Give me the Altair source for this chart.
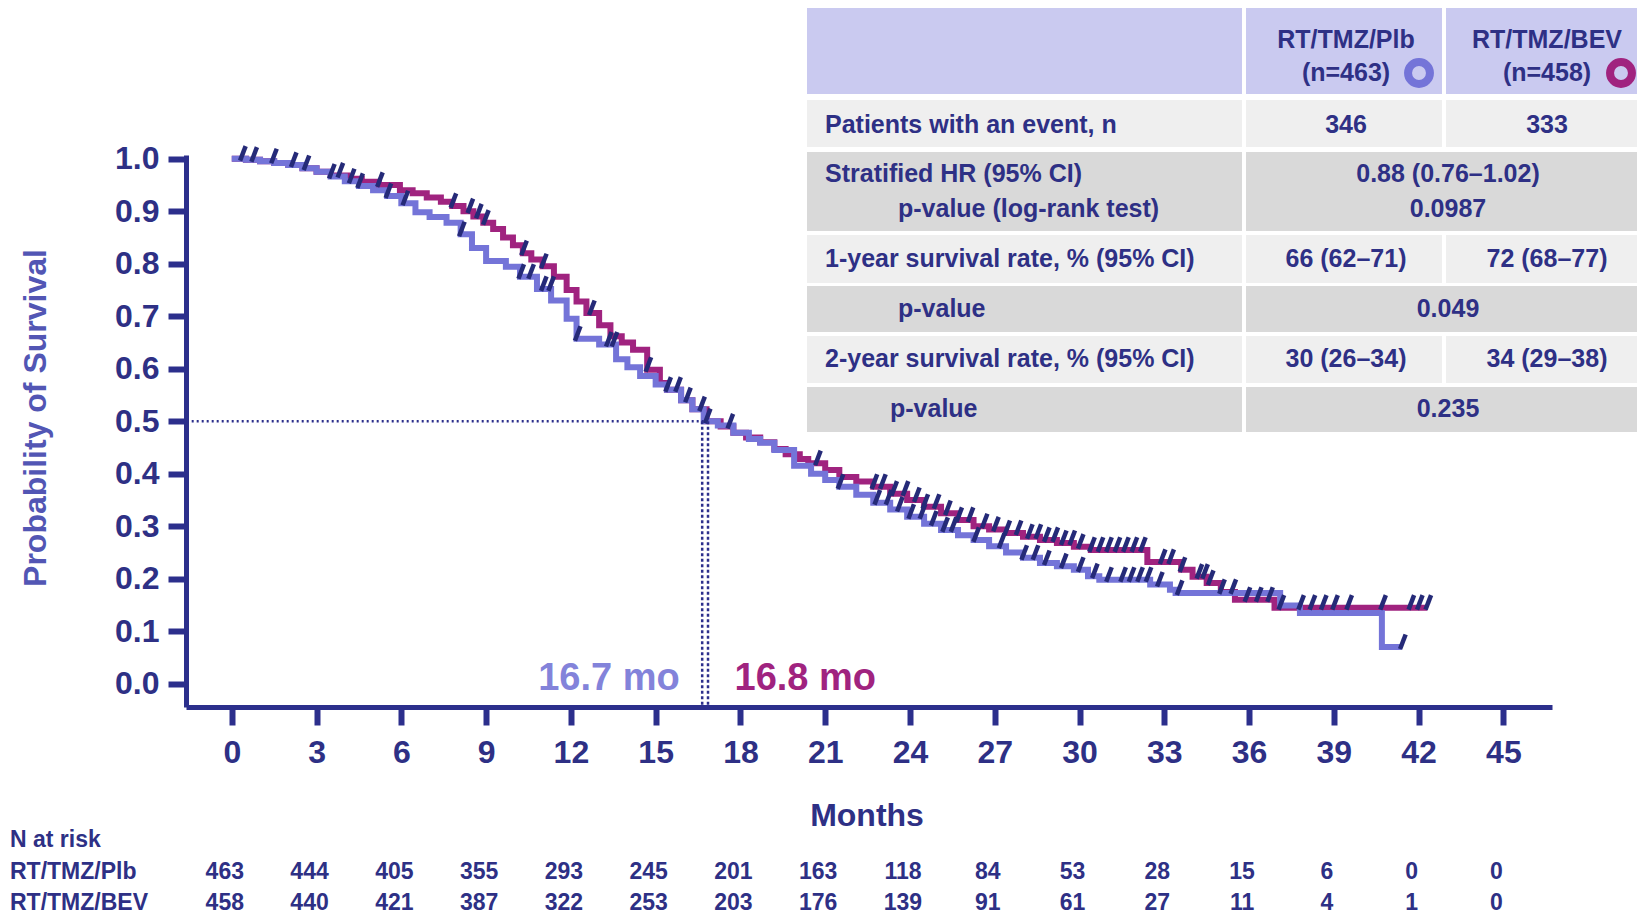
import altair as alt
import pandas as pd
import numpy as np

# ---------------- data ----------------
plb_t = [0, 0.5, 1.0, 1.5, 2.0, 2.5, 3.0, 3.5, 4.0, 4.5, 5.0, 5.5, 6.0, 6.5, 7.0, 7.6, 8.1, 8.5, 9.0, 9.7,
         10.2, 10.8, 11.3, 11.85, 12.2, 13.0, 13.6, 14.0, 14.45, 15.0, 15.4, 15.9, 16.3, 16.7, 17.2, 17.75,
         18.3, 18.7, 19.2, 19.9, 20.5, 21.0, 21.5, 22.1, 22.7, 23.3, 23.9, 24.5, 25.1, 25.7, 26.25, 26.8,
         27.4, 28.0, 28.6, 29.2, 29.8, 30.3, 30.7, 32.5, 33.2, 33.4, 37.1, 37.8, 40.7, 41.4]
plb_s = [1.0, 0.998, 0.995, 0.992, 0.988, 0.982, 0.975, 0.966, 0.957, 0.948, 0.94, 0.929, 0.915, 0.898,
         0.889, 0.878, 0.856, 0.83, 0.805, 0.794, 0.775, 0.752, 0.73, 0.695, 0.657, 0.646, 0.618, 0.603,
         0.586, 0.57, 0.56, 0.54, 0.523, 0.5, 0.492, 0.478, 0.466, 0.459, 0.445, 0.415, 0.4, 0.388, 0.375,
         0.36, 0.345, 0.332, 0.318, 0.305, 0.293, 0.283, 0.274, 0.262, 0.25, 0.24, 0.23, 0.224, 0.217,
         0.205, 0.198, 0.189, 0.179, 0.173, 0.149, 0.135, 0.07, 0.07]

bev_t = [0, 0.5, 1.0, 1.5, 2.0, 2.5, 3.0, 3.5, 4.1, 4.6, 5.2, 5.95, 6.4, 6.9, 7.4, 7.8, 8.2, 8.55, 8.9, 9.25,
         9.6, 9.95, 10.3, 10.6, 11.0, 11.4, 11.85, 12.2, 12.55, 13.0, 13.4, 13.8, 14.2, 14.7, 15.15, 15.4,
         15.9, 16.3, 16.8, 17.3, 17.75, 18.2, 18.7, 19.2, 19.6, 20.1, 20.4, 21.0, 21.5, 22.1, 22.7, 23.3,
         23.9, 24.5, 25.1, 25.7, 26.25, 26.8, 27.4, 28.0, 28.6, 29.2, 29.8, 30.4, 32.4, 33.6, 34.0, 34.5,
         35.0, 35.5, 36.9, 42.3]
bev_s = [1.0, 0.998, 0.995, 0.992, 0.988, 0.982, 0.975, 0.968, 0.962, 0.956, 0.95, 0.94, 0.934, 0.926,
         0.918, 0.91, 0.9, 0.89, 0.878, 0.866, 0.85, 0.835, 0.82, 0.808, 0.795, 0.775, 0.75, 0.728, 0.706,
         0.683, 0.662, 0.65, 0.636, 0.598, 0.573, 0.56, 0.54, 0.523, 0.5, 0.49, 0.478, 0.469, 0.46, 0.447,
         0.437, 0.428, 0.42, 0.407, 0.394, 0.385, 0.375, 0.362, 0.35, 0.337, 0.325, 0.312, 0.3, 0.294,
         0.287, 0.28, 0.274, 0.268, 0.261, 0.255, 0.232, 0.217, 0.204, 0.192, 0.175, 0.16, 0.145, 0.145]

cens_plb = [0.75, 2.15, 3.5, 4.2, 4.5, 5.5, 6.1, 8.1, 10.2, 10.55, 11.0, 11.26, 12.2, 13.3, 13.5, 15.4,
            15.75, 16.1, 16.6, 16.8, 21.5, 22.8, 23.2, 23.6, 24.0, 24.4, 24.8, 25.2, 25.5, 26.3, 27.2, 28.0,
            28.4, 28.8, 29.4, 30.0, 30.5, 31.0, 31.5, 31.8, 32.1, 32.4, 32.8, 33.5, 41.4]
cens_bev = [0.35, 1.45, 2.6, 3.8, 5.2, 7.8, 8.4, 8.7, 8.95, 10.3, 11.0, 12.7, 14.7, 17.6, 20.7, 22.7, 23.0,
            23.4, 23.8, 24.2, 24.5, 24.9, 25.3, 25.7, 26.1, 26.6, 27.0, 27.4, 27.8, 28.2, 28.5, 28.8, 29.1,
            29.4, 29.7, 30.0, 30.4, 30.7, 31.0, 31.3, 31.6, 31.9, 32.2, 32.9, 33.2, 33.6, 34.2, 34.4, 34.6,
            35.0, 35.4, 35.9, 36.3, 36.7, 37.1, 37.8, 38.2, 38.6, 39.0, 39.5, 40.7, 41.7, 42.0, 42.3]

medians = [16.7, 16.8]
median_labels = ["16.7 mo", "16.8 mo"]

x_ticks = list(range(0, 46, 3))
y_ticks = [0.0, 0.1, 0.2, 0.3, 0.4, 0.5, 0.6, 0.7, 0.8, 0.9, 1.0]

arms = ["RT/TMZ/Plb", "RT/TMZ/BEV"]
arm_n = ["(n=463)", "(n=458)"]
risk_plb = [463, 444, 405, 355, 293, 245, 201, 163, 118, 84, 53, 28, 15, 6, 0, 0]
risk_bev = [458, 440, 421, 387, 322, 253, 203, 176, 139, 91, 61, 27, 11, 4, 1, 0]

row_labels = ["Patients with an event, n", "Stratified HR (95% CI)", "1-year survival rate, % (95% CI)",
              "p-value", "2-year survival rate, % (95% CI)", "p-value"]
row_sublabels = ["", "p-value (log-rank test)", "", "", "", ""]
row_plb = ["346", "", "66 (62\u201371)", "", "30 (26\u201334)", ""]
row_bev = ["333", "", "72 (68\u201377)", "", "34 (29\u201338)", ""]
row_merged = ["", "0.88 (0.76\u20131.02)", "", "0.049", "", "0.235"]
row_merged_sub = ["", "0.0987", "", "", "", ""]

# ---------------- style / layout ----------------
NAVY = "#2C2F8C"
TXT = "#2E3085"
PLB = "#7474D8"
BEV = "#A0237F"
CENS = "#252A78"
FONT = "Liberation Sans"

L, T, R, B = 186, 155, 1552, 707
W, H = R - L, B - T


def px(v):
    return v - L


def py(v):
    return v - T


xs = alt.Scale(domain=[-1.62, 46.72], nice=False, zero=False)
ys = alt.Scale(domain=[-0.0442, 1.007], nice=False, zero=False)


def step_at(ts, ss, t):
    i = int(np.searchsorted(np.array(ts), t, side="right")) - 1
    return ss[max(i, 0)]


bev_df = pd.DataFrame({"m": bev_t, "s": bev_s})
plb_df = pd.DataFrame({"m": plb_t, "s": plb_s})
cens = pd.DataFrame({
    "m": cens_bev + cens_plb,
    "s": [step_at(bev_t, bev_s, t) for t in cens_bev] + [step_at(plb_t, plb_s, t) for t in cens_plb],
})

base_x = alt.X("m:Q", scale=xs, axis=alt.Axis(
    values=x_ticks, title=None, grid=False, domainColor=NAVY, domainWidth=5, tickColor=NAVY,
    tickWidth=6, tickSize=18, labelFontSize=32, labelFontWeight="bold", labelColor=TXT,
    labelFont=FONT, labelPadding=12))
base_y = alt.Y("s:Q", scale=ys, axis=alt.Axis(
    values=y_ticks, format=".1f", title=None, grid=False, domainColor=NAVY, domainWidth=5,
    tickColor=NAVY, tickWidth=6, tickSize=18, labelFontSize=32, labelFontWeight="bold",
    labelColor=TXT, labelFont=FONT, labelPadding=9))

bev_line = alt.Chart(bev_df).mark_line(
    interpolate="step-after", color=BEV, strokeWidth=6).encode(x=base_x, y=base_y)
plb_line = alt.Chart(plb_df).mark_line(
    interpolate="step-after", color=PLB, strokeWidth=6).encode(x="m:Q", y="s:Q")

cens_marks = alt.Chart(cens).mark_point(
    shape="M -0.12 0.15 L 0.3 -0.95", filled=False, stroke=CENS, strokeWidth=4.5, size=700,
    opacity=1).encode(x="m:Q", y="s:Q")

med = pd.DataFrame({"m": medians, "label": median_labels, "s": [0.5, 0.5]})
h_rule = alt.Chart(med.iloc[[0]]).mark_rule(color=NAVY, strokeWidth=2.5, strokeDash=[2, 3]).encode(
    x="m:Q", x2=alt.value(0), y="s:Q")
v_rule1 = alt.Chart(med.iloc[[0]]).mark_rule(
    color=NAVY, strokeWidth=2.5, strokeDash=[3, 2.5], xOffset=-1.5).encode(
    x="m:Q", y="s:Q", y2=alt.value(H))
v_rule2 = alt.Chart(med.iloc[[1]]).mark_rule(
    color=NAVY, strokeWidth=2.5, strokeDash=[3, 2.5], xOffset=1.5).encode(
    x="m:Q", y="s:Q", y2=alt.value(H))
med_txt1 = alt.Chart(med.iloc[[0]]).mark_text(
    align="right", baseline="alphabetic", dx=-24, fontSize=38, font=FONT, fontWeight="bold",
    color="#8383DA").encode(x="m:Q", y=alt.value(py(690)), text="label:N")
med_txt2 = alt.Chart(med.iloc[[1]]).mark_text(
    align="left", baseline="alphabetic", dx=28, fontSize=38, font=FONT, fontWeight="bold",
    color=BEV).encode(x="m:Q", y=alt.value(py(690)), text="label:N")

# axis titles
ytitle = alt.Chart(pd.DataFrame({"t": ["Probability of Survival"]})).mark_text(
    angle=270, align="center", baseline="middle", fontSize=32, fontWeight="bold", font=FONT,
    color="#5256B4").encode(x=alt.value(px(36)), y=alt.value(py(418)), text="t:N")
xtitle = alt.Chart(pd.DataFrame({"t": ["Months"]})).mark_text(
    align="center", baseline="middle", fontSize=32, fontWeight="bold", font=FONT, color=TXT).encode(
    x=alt.value(px(867)), y=alt.value(py(816)), text="t:N")

# number at risk
risk = pd.DataFrame({
    "m": x_ticks + x_ticks,
    "n": [str(v) for v in risk_plb] + [str(v) for v in risk_bev],
    "yy": [py(872)] * len(x_ticks) + [py(903)] * len(x_ticks),
})
risk_txt = alt.Chart(risk).mark_text(
    align="center", baseline="middle", dx=-7, fontSize=23, fontWeight="bold", font=FONT, color=TXT).encode(
    x="m:Q", y=alt.Y("yy:Q", scale=None), text="n:N")
risk_lab = alt.Chart(pd.DataFrame({
    "t": ["N at risk"] + arms, "yy": [py(840), py(872), py(903)]})).mark_text(
    align="left", baseline="middle", fontSize=23, fontWeight="bold", font=FONT, color=TXT).encode(
    x=alt.value(px(10)), y=alt.Y("yy:Q", scale=None), text="t:N")

# ---------------- stats table ----------------
col_edges = [(807, 1242), (1246, 1442), (1446, 1650)]
row_edges = [(8, 94), (100, 147), (152, 231), (235, 283), (286, 332), (336, 383), (387, 432)]
HEAD_BG, LIGHT_BG, DARK_BG = "#CACAF0", "#EFEFEF", "#D9D9D9"

cells = []
for c in col_edges:
    cells.append((c[0], c[1], row_edges[0][0], row_edges[0][1], HEAD_BG))
for i in range(len(row_labels)):
    r0, r1 = row_edges[i + 1]
    bg = LIGHT_BG if i % 2 == 0 else DARK_BG
    cells.append((col_edges[0][0], col_edges[0][1], r0, r1, bg))
    if row_merged[i]:
        cells.append((col_edges[1][0], col_edges[2][1], r0, r1, bg))
    else:
        cells.append((col_edges[1][0], col_edges[1][1], r0, r1, bg))
        cells.append((col_edges[2][0], col_edges[2][1], r0, r1, bg))
cell_df = pd.DataFrame(cells, columns=["x0", "x1", "y0", "y1", "bg"])
for k in ["x0", "x1"]:
    cell_df[k] = cell_df[k] - L
for k in ["y0", "y1"]:
    cell_df[k] = cell_df[k] - T
table_rects = alt.Chart(cell_df).mark_rect().encode(
    x=alt.X("x0:Q", scale=None), x2=alt.X2("x1"), y=alt.Y("y0:Q", scale=None), y2=alt.Y2("y1"),
    fill=alt.Fill("bg:N", scale=None))

ROW_Y = [125, 174, 259, 309, 359, 409]
SUB_Y = 209
C1, C2, CM = 1346, 1547, 1448

left_rows = []
for i, lab in enumerate(row_labels):
    indent = 825 if i in (0, 1, 2, 4) else (898 if i == 3 else 890)
    left_rows.append((lab, px(indent), py(ROW_Y[i])))
    if row_sublabels[i]:
        left_rows.append((row_sublabels[i], px(898), py(SUB_Y)))
left_df = pd.DataFrame(left_rows, columns=["t", "xx", "yy"])

center_rows = [(arms[0], px(C1), py(40)), (arms[1], px(C2), py(40)),
               (arm_n[0], px(C1), py(73)), (arm_n[1], px(C2), py(73))]
for i in range(len(row_labels)):
    if row_merged[i]:
        center_rows.append((row_merged[i], px(CM), py(ROW_Y[i])))
        if row_merged_sub[i]:
            center_rows.append((row_merged_sub[i], px(CM), py(SUB_Y)))
    else:
        center_rows.append((row_plb[i], px(C1), py(ROW_Y[i])))
        center_rows.append((row_bev[i], px(C2), py(ROW_Y[i])))
center_df = pd.DataFrame(center_rows, columns=["t", "xx", "yy"])

tbl_left = alt.Chart(left_df).mark_text(
    align="left", baseline="middle", fontSize=25, fontWeight="bold", font=FONT, color=TXT).encode(
    x=alt.X("xx:Q", scale=None), y=alt.Y("yy:Q", scale=None), text="t:N")
tbl_center = alt.Chart(center_df).mark_text(
    align="center", baseline="middle", fontSize=25, fontWeight="bold", font=FONT, color=TXT).encode(
    x=alt.X("xx:Q", scale=None), y=alt.Y("yy:Q", scale=None), text="t:N")

ring_df = pd.DataFrame({"arm": arms, "xx": [px(1419), px(1621)], "yy": [py(73), py(73)]})
ring_plb = alt.Chart(ring_df.iloc[[0]]).mark_point(
    shape="circle", filled=False, strokeWidth=8, size=480, opacity=1, stroke=PLB).encode(
    x=alt.X("xx:Q", scale=None), y=alt.Y("yy:Q", scale=None))
ring_bev = alt.Chart(ring_df.iloc[[1]]).mark_point(
    shape="circle", filled=False, strokeWidth=8, size=480, opacity=1, stroke=BEV).encode(
    x=alt.X("xx:Q", scale=None), y=alt.Y("yy:Q", scale=None))

chart = alt.layer(
    bev_line, plb_line, cens_marks, h_rule, v_rule1, v_rule2, med_txt1, med_txt2,
    ytitle, xtitle, risk_txt, risk_lab, table_rects, tbl_left, tbl_center, ring_plb, ring_bev,
).properties(
    width=W, height=H,
    autosize=alt.AutoSizeParams(type="none"),
    padding={"left": L, "top": T, "right": 1637 - R, "bottom": 915 - B},
    background="white",
).configure_view(strokeOpacity=0)

chart.save("out.html", embed_options={"renderer": "svg", "actions": False})
